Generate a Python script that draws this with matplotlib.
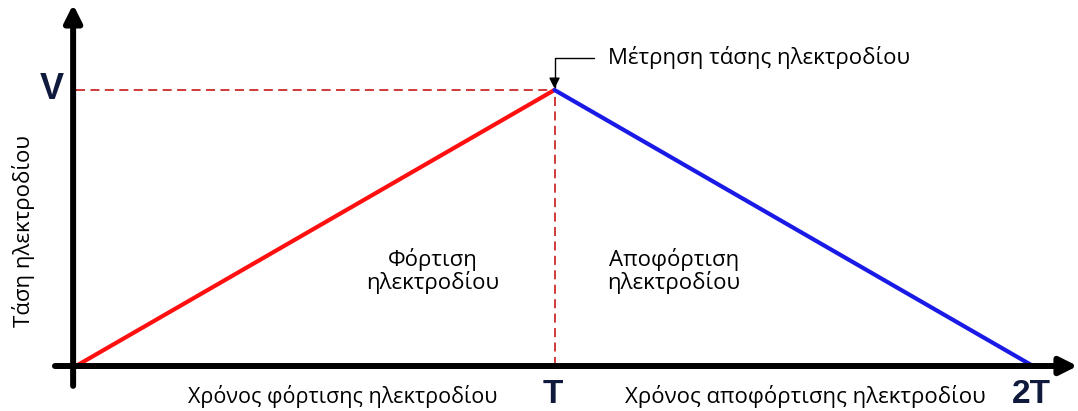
import matplotlib
matplotlib.use('Agg')
import matplotlib.pyplot as plt

# charge / discharge cycle (time in units of T, voltage in units of V)
t_charge = [0, 1]
v_charge = [0, 1]
t_discharge = [1, 2]
v_discharge = [1, 0]
tick_pos = [1, 2]
tick_labels = ['T', '2T']

plt.rcParams['font.family'] = ['Open Sans', 'DejaVu Sans']

fig = plt.figure(figsize=(10.78, 4.11), dpi=100)
ax = fig.add_axes([0, 0, 1, 1])
ax.set_xlim(-0.1588, 2.094)
ax.set_ylim(-0.163, 1.326)
ax.axis('off')

navy = '#101a3c'
bold_font = ['Liberation Sans Narrow', 'Liberation Sans']

# axes with arrow heads
ax.annotate('', xy=(-0.006, 1.31), xytext=(-0.006, -0.072),
            arrowprops=dict(arrowstyle='-|>', color='black', lw=4.3,
                            mutation_scale=26, shrinkA=0, shrinkB=0))
ax.annotate('', xy=(2.093, 0), xytext=(-0.044, 0),
            arrowprops=dict(arrowstyle='-|>', color='black', lw=4.3,
                            mutation_scale=26, shrinkA=0, shrinkB=0))

# guide lines to the peak
ax.plot([0, t_charge[1]], [v_charge[1], v_charge[1]], color='#cc2a2a', lw=1.3, ls=(0, (5, 3)))
ax.plot([t_charge[1], t_charge[1]], [0, v_charge[1]], color='#cc2a2a', lw=1.3, ls=(0, (5, 3)))

ax.plot(t_charge, v_charge, color='#ff1010', lw=3, solid_capstyle='round')
ax.plot(t_discharge, v_discharge, color='#1a1ae6', lw=3, solid_capstyle='round')

# V, T, 2T labels
ax.text(-0.05, 1.0, 'V', fontsize=26, fontweight='bold', color=navy,
        family=bold_font, ha='center', va='center')
for p, lab in zip(tick_pos, tick_labels):
    ax.text(p - 0.004, -0.159, lab, fontsize=24, fontweight='bold', color=navy,
            family=bold_font, ha='center', va='bottom')

# region texts
ax.text(0.746, 0.344, 'Φόρτιση\nηλεκτροδίου', fontsize=16, ha='center', va='center',
        linespacing=1.0)
ax.text(1.25, 0.344, 'Αποφόρτιση\nηλεκτροδίου', fontsize=16, ha='center', va='center',
        linespacing=1.0)
ax.text(0.234, -0.112, 'Χρόνος φόρτισης ηλεκτροδίου', fontsize=15.5, ha='left', va='center')
ax.text(1.147, -0.112, 'Χρόνος αποφόρτισης ηλεκτροδίου', fontsize=16, ha='left', va='center')
ax.text(-0.11, 0.49, 'Τάση ηλεκτροδίου', fontsize=16, ha='center', va='center', rotation=90)

# measurement marker
ax.annotate('Μέτρηση τάσης ηλεκτροδίου', xy=(1, 1.005), xytext=(1.112, 1.116),
            fontsize=16, ha='left', va='center',
            arrowprops=dict(arrowstyle='-|>', color='black', lw=1,
                            mutation_scale=16, shrinkA=8, shrinkB=0,
                            relpos=(0, 0.5),
                            connectionstyle='angle,angleA=0,angleB=90,rad=0'))

fig.savefig('out.png', dpi=100)
